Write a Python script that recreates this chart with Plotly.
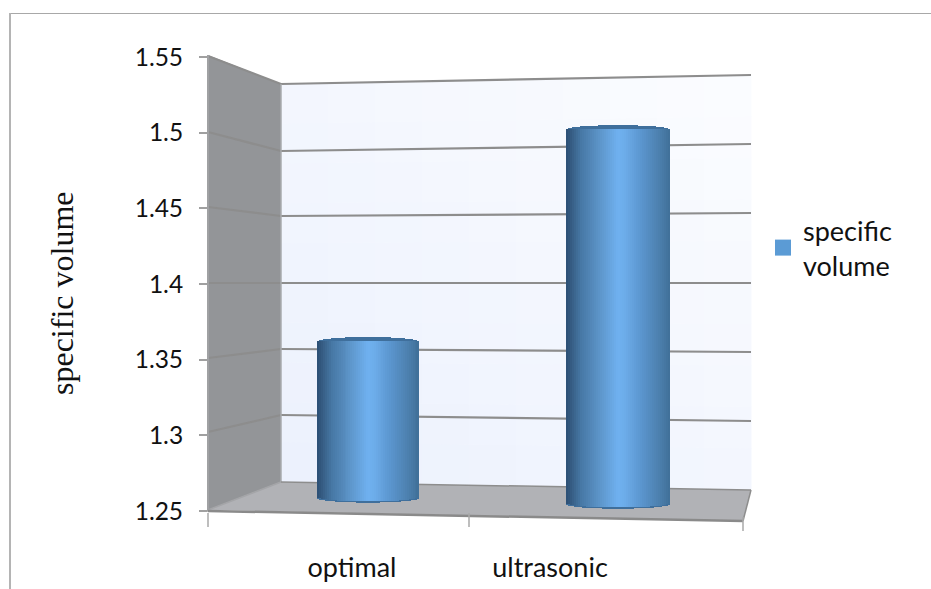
import plotly.graph_objects as go
import numpy as np

# ---- data ----
categories = ["optimal", "ultrasonic"]
values = [1.36, 1.50]
series_name = "specific volume"
tick_vals = [1.25, 1.30, 1.35, 1.40, 1.45, 1.50, 1.55]
tick_text = ["1.25", "1.3", "1.35", "1.4", "1.45", "1.5", "1.55"]

# ---- geometry / style ----
W, H = 931, 589
L, R, T, B = 208, 751, 55, 511
PX_PER_UNIT = 1513.3
X_PX_PER_UNIT = 267.5


def px(x):
    return (x - L) / (R - L)


def py(y):
    return (B - y) / (B - T)


def rgb(c):
    return tuple(int(c[i:i + 2], 16) for i in (1, 3, 5))


def mix(c0, c1, t):
    a, b = rgb(c0), rgb(c1)
    return "rgb(%d,%d,%d)" % tuple(round(a[i] + (b[i] - a[i]) * t) for i in range(3))


GRID = "#8d8d8d"
shapes = []


def poly(points, fill=None, line=None, width=0):
    path = "M " + " L ".join(f"{px(x):.5f},{py(y):.5f}" for x, y in points) + " Z"
    shapes.append(dict(type="path", xref="paper", yref="paper", path=path, fillcolor=fill or "rgba(0,0,0,0)",
                       line=dict(color=line or "rgba(0,0,0,0)", width=width), layer="below"))


def seg(p0, p1, color=GRID, width=2.2):
    shapes.append(dict(type="line", xref="paper", yref="paper", x0=px(p0[0]), y0=py(p0[1]), x1=px(p1[0]), y1=py(p1[1]),
                       line=dict(color=color, width=width), layer="below"))


# side wall and floor
poly([(208, 55), (281, 84), (281, 482), (208, 510)], fill="#939598")
poly([(208, 510), (281, 482), (751, 490), (743, 521)], fill="#b1b2b6")

# back wall with soft diagonal shading
NP = 10
for i in range(NP):
    for j in range(NP):
        u0, u1 = i / NP, (i + 1) / NP
        v0, v1 = j / NP, (j + 1) / NP
        xa, xb = 281 + 470 * u0, 281 + 470 * u1 + 0.5
        ya0 = 482 + 8 * u0 - (398 + 17 * u0) * v0
        yb0 = 482 + 8 * u1 - (398 + 17 * u1) * v0
        ya1 = 482 + 8 * u0 - (398 + 17 * u0) * v1 - 0.5
        yb1 = 482 + 8 * u1 - (398 + 17 * u1) * v1 - 0.5
        poly([(xa, ya0), (xb, yb0), (xb, yb1), (xa, ya1)],
             fill=mix("#ecf1fd", "#fcfdff", (u0 + v0) / 2))

# perspective gridlines, one per axis tick
front_y = [511, 432, 358, 283, 207, 132, 56]
back_y = [482, 415, 349, 283, 216, 151, 84]
right_y = [490, 421, 352, 283, 213, 144, 75]
for f, b, r in zip(front_y[1:], back_y[1:], right_y[1:]):
    seg((208, f), (281, b))
    seg((281, b), (751, r))

# frame edges
seg((208, 55), (208, 511), "#a0a1a3", 2)
seg((281, 84), (281, 482), "#a9abae", 1.5)
seg((208, 510), (281, 482), "#a4a5a8", 1.5)
seg((281, 482), (751, 490), "#8d8d8d", 1.5)
seg((751, 490), (743, 521), "#8d8d8d", 1.5)
seg((208, 511), (743, 521), "#8a8a8a", 2.5)
seg((200, 511), (208, 511), "#a0a0a0", 1.5)
# category boundary ticks on the floor edge
for xt, yt in [(208, 517), (469, 517), (743, 521)]:
    seg((xt, yt - 4), (xt, yt + 10), "#a8a8a8", 1.5)
# outer frame of the picture
shapes.append(dict(type="line", xref="paper", yref="paper", x0=px(10), x1=px(931), y0=py(13.5), y1=py(13.5),
                   line=dict(color="#a8a8a8", width=1), layer="below"))
shapes.append(dict(type="line", xref="paper", yref="paper", x0=px(10), x1=px(10), y0=py(13), y1=py(589),
                   line=dict(color="#b4b4b4", width=2), layer="below"))

# ---- cylinders: vertical strips placed through the axes ----
bar_center = [0.598, 1.533]
bar_width = [0.378, 0.389]
bar_floor = [1.2593, 1.2553]
cap_shift = 0.0020
arc_h = 4.5 / PX_PER_UNIT
STOPS_T = [0, 0.04, 0.14, 0.30, 0.50, 0.56, 0.72, 0.90, 1.0]
STOPS_C = ["#2b4f74", "#34597f", "#4677a4", "#5a91c4", "#6fb1f0", "#6dadea", "#5b96cf", "#4c7fad", "#406f98"]
N = 52


def ramp(t):
    k = int(np.searchsorted(STOPS_T, t, side="right") - 1)
    k = min(k, len(STOPS_T) - 2)
    return mix(STOPS_C[k], STOPS_C[k + 1], (t - STOPS_T[k]) / (STOPS_T[k + 1] - STOPS_T[k]))


fig = go.Figure()
for name, v, c, w, f in zip(categories, values, bar_center, bar_width, bar_floor):
    t = (np.arange(N) + 0.5) / N
    xs = c - w / 2 + t * w
    arc = np.sqrt(1 - (2 * t - 1) ** 2)
    top = v + cap_shift
    # dark rim (top lens and bottom edge)
    fig.add_trace(go.Bar(x=xs, base=f - arc * arc_h - 0.0008, y=(top + arc * arc_h) - (f - arc * arc_h - 0.0008),
                         width=w / N * 1.1, marker=dict(color="#3f6f9c", line_width=0),
                         showlegend=False, hoverinfo="skip", name=name))
    # lit body
    body_top = top + arc * 0.8 / PX_PER_UNIT
    fig.add_trace(go.Bar(x=xs, base=f - arc * arc_h, y=body_top - (f - arc * arc_h),
                         width=w / N * 1.1, marker=dict(color=[ramp(x) for x in t], line_width=0),
                         showlegend=False, hovertemplate=f"{name}: {v}<extra></extra>", name=name))

# legend entry
fig.add_trace(go.Scatter(x=[None], y=[None], mode="markers", name="specific<br>volume",
                         marker=dict(symbol="square", size=16, color="#5b9bd5")))

fig.update_layout(
    width=W, height=H,
    margin=dict(l=L, r=W - R, t=T, b=H - B, pad=0),
    paper_bgcolor="white", plot_bgcolor="rgba(0,0,0,0)",
    barmode="overlay", bargap=0,
    shapes=shapes,
    font=dict(family="Lato, Carlito, sans-serif", size=24, color="#111111"),
    legend=dict(x=(763 - L) / (R - L), y=py(206), xanchor="left", yanchor="top",
                bgcolor="rgba(0,0,0,0)", font=dict(size=27), itemwidth=30),
    xaxis=dict(range=[0, (R - L) / X_PX_PER_UNIT], tickmode="array", automargin=False,
               tickvals=[(352 - L) / X_PX_PER_UNIT, (550 - L) / X_PX_PER_UNIT], ticktext=categories,
               ticks="", showgrid=False, zeroline=False, showline=False, ticklabelstandoff=38,
               tickfont=dict(size=27)),
    yaxis=dict(range=[1.25, 1.25 + (B - T) / PX_PER_UNIT], tickmode="array", tickvals=tick_vals, ticktext=tick_text,
               ticks="outside", ticklen=8, tickcolor="#a0a0a0", tickwidth=1.5, showgrid=False, zeroline=False,
               showline=False, ticklabelstandoff=11, tickfont=dict(size=24.5), automargin=False),
    annotations=[dict(text=series_name, xref="paper", yref="paper", x=px(62), y=py(294), showarrow=False,
                      textangle=-90, xanchor="center", yanchor="middle",
                      font=dict(family="Liberation Serif, serif", size=32, color="#111111"))],
)
fig.write_html("out.html", post_script="document.body.style.margin='0';", config=dict(displayModeBar=False))
